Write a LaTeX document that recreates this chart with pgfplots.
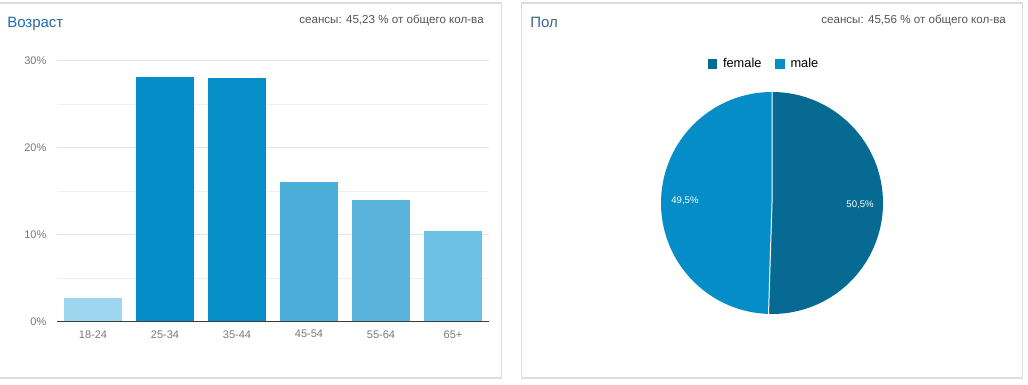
\documentclass[border=0pt]{standalone}
\usepackage{fontspec}
\setmainfont{Liberation Sans}
\usepackage{pgfplots}
\pgfplotsset{compat=1.18}
\definecolor{cA}{RGB}{158,214,239}
\definecolor{cB}{RGB}{5,141,199}
\definecolor{cC}{RGB}{7,141,199}
\definecolor{cD}{RGB}{75,174,216}
\definecolor{cE}{RGB}{90,180,220}
\definecolor{cF}{RGB}{109,193,228}
\definecolor{female}{RGB}{6,106,146}
\definecolor{male}{RGB}{5,141,199}
\definecolor{panel}{RGB}{221,221,221}
\definecolor{titleblue}{RGB}{34,108,178}
\definecolor{titlegray}{RGB}{60,100,145}
\definecolor{subgray}{RGB}{85,85,85}
\definecolor{tickc}{RGB}{120,120,120}
\definecolor{gridc}{RGB}{228,228,228}
\definecolor{gridm}{RGB}{240,240,240}
\definecolor{basec}{RGB}{60,60,60}
\begin{document}
\begin{tikzpicture}[x=0.75pt,y=0.75pt]
\useasboundingbox (0,0) rectangle (1028,385);
\fill[white] (0,0) rectangle (1028,385);
\draw[panel, line width=0.9pt] (-3,7) rectangle (501.5,382);
\draw[panel, line width=0.9pt] (521.5,7) rectangle (1022.5,382);
\node[anchor=base west, inner sep=0, text=titleblue, font=\fontsize{11.25}{13}\selectfont] at (7,357.5) {Возраст};
\node[anchor=base west, inner sep=0, text=titlegray, font=\fontsize{11.25}{13}\selectfont] at (530,357.5) {Пол};
\node[anchor=base east, inner sep=0, text=subgray, font=\fontsize{8.7}{10}\selectfont] at (484,361) {сеансы: 45,23 \% от общего кол-ва};
\node[anchor=base east, inner sep=0, text=subgray, font=\fontsize{8.7}{10}\selectfont] at (1006,361) {сеансы: 45,56 \% от общего кол-ва};

\begin{axis}[
  at={(42.75pt,47.6pt)}, anchor=south west,
  scale only axis, width=324pt, height=195.4pt,
  xmin=-0.5, xmax=5.5, ymin=0, ymax=30,
  xtick={0,1,2,3,4,5},
  xticklabels={18-24,25-34,35-44,45-54,55-64,65+},
  ytick={0,10,20,30},
  yticklabel={\pgfmathprintnumber{\tick}\%},
  minor ytick={5,15,25},
  ymajorgrids, yminorgrids,
  major grid style={draw=gridc, line width=0.75pt},
  minor grid style={draw=gridm, line width=0.75pt},
  axis line style={draw=none},
  major tick length=0pt, minor tick length=0pt,
  tick label style={font=\fontsize{8.25}{10}\selectfont, text=tickc},
  /pgf/number format/assume math mode=true,
  xticklabel style={yshift=-3.1pt},
  yticklabel style={xshift=-4.5pt},
  clip=false,
]
\addplot[ybar, bar width=43.5pt, bar shift=0pt, fill=cA, draw=none] coordinates {(0,2.7)};
\addplot[ybar, bar width=43.5pt, bar shift=0pt, fill=cB, draw=none] coordinates {(1,28.2)};
\addplot[ybar, bar width=43.5pt, bar shift=0pt, fill=cC, draw=none] coordinates {(2,28.0)};
\addplot[ybar, bar width=43.5pt, bar shift=0pt, fill=cD, draw=none] coordinates {(3,16.1)};
\addplot[ybar, bar width=43.5pt, bar shift=0pt, fill=cE, draw=none] coordinates {(4,14.0)};
\addplot[ybar, bar width=43.5pt, bar shift=0pt, fill=cF, draw=none] coordinates {(5,10.4)};
\draw[basec, line width=0.9pt] (axis cs:-0.5,0) -- (axis cs:5.5,0);
\end{axis}

\pgfmathsetmacro\fem{50.5}
\pgfmathsetmacro\mal{49.5}
\pgfmathsetmacro\aend{90-3.6*\fem}
\pgfmathsetmacro\afin{\aend-3.6*\mal}
\begin{axis}[
  at={(579pt,136.5pt)}, anchor=center,
  scale only axis, width=166.5pt, height=166.5pt,
  xmin=-1, xmax=1, ymin=-1, ymax=1,
  hide axis, clip=false,
  legend columns=2,
  legend style={draw=none, fill=none, at={(0.466,1.126)}, anchor=center,
    font=\fontsize{9.6}{11}\selectfont,
    /tikz/every odd column/.append style={column sep=2.5pt},
    /tikz/every even column/.append style={column sep=8.5pt}},
  legend image code/.code={\fill[#1] (0pt,-3.4pt) rectangle (6.8pt,3.4pt);},
]
\addlegendimage{fill=female, draw=none}
\addlegendentry{female}
\addlegendimage{fill=male, draw=none}
\addlegendentry{male}
\fill[female] (axis cs:0,0) -- (axis cs:0,1) arc[start angle=90, end angle=\aend, radius=83.25pt] -- cycle;
\fill[male] (axis cs:0,0) -- (axis cs:{cos(\aend)},{sin(\aend)}) arc[start angle=\aend, end angle=\afin, radius=83.25pt] -- cycle;
\draw[white, line width=0.75pt] (axis cs:0,1) -- (axis cs:0,0) -- (axis cs:{cos(\aend)},{sin(\aend)});
\node[text=white, font=\fontsize{7.2}{8}\selectfont] at (axis cs:-0.784,0.018) {49,5\%};
\node[text=white, font=\fontsize{7.2}{8}\selectfont] at (axis cs:0.793,-0.018) {50,5\%};
\end{axis}
\end{tikzpicture}
\end{document}
